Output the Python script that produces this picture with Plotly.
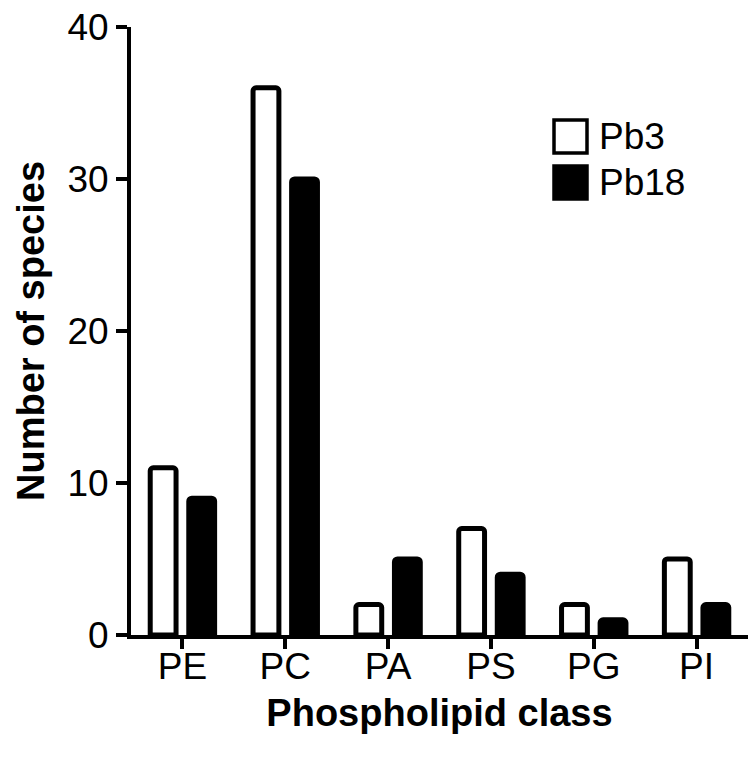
import plotly.graph_objects as go

categories = ["PE", "PC", "PA", "PS", "PG", "PI"]
pb3 = [11, 36, 2, 7, 2, 5]
pb18 = [9, 30, 5, 4, 1, 2]
series_names = ["Pb3", "Pb18"]
y_ticks = [0, 10, 20, 30, 40]

FONT = "Liberation Sans, Arial, sans-serif"

fig = go.Figure()
fig.add_trace(go.Bar(
    x=categories, y=pb3, name=series_names[0],
    marker=dict(color="white", line=dict(color="black", width=5), cornerradius=3),
    showlegend=False,
))
fig.add_trace(go.Bar(
    x=categories, y=pb18, name=series_names[1],
    marker=dict(color="black", line=dict(color="black", width=5), cornerradius=3),
    showlegend=False,
))

# manual legend (large square swatches)
L, T = 131, 27
PW, PH = 617, 608
def px(xp):
    return (xp - L) / PW
def py(yp):
    return (T + PH - yp) / PH

shapes = [
    dict(type="rect", xref="paper", yref="paper",
         x0=px(554), x1=px(587), y0=py(120), y1=py(153),
         line=dict(color="black", width=3.5), fillcolor="white"),
    dict(type="rect", xref="paper", yref="paper",
         x0=px(554), x1=px(587), y0=py(166), y1=py(199),
         line=dict(color="black", width=3.5), fillcolor="black"),
]
annotations = [
    dict(text=series_names[0], xref="paper", yref="paper", x=px(597), y=py(136),
         xanchor="left", yanchor="middle", showarrow=False,
         font=dict(family=FONT, size=37, color="black")),
    dict(text=series_names[1], xref="paper", yref="paper", x=px(597), y=py(182),
         xanchor="left", yanchor="middle", showarrow=False,
         font=dict(family=FONT, size=37, color="black")),
]

fig.update_layout(
    width=753, height=757,
    margin=dict(l=L, r=753 - L - PW, t=T, b=757 - T - PH),
    paper_bgcolor="white", plot_bgcolor="white",
    barmode="group", bargap=0.25, bargroupgap=0.33,
    font=dict(family=FONT, color="black"),
    shapes=shapes, annotations=annotations,
    xaxis=dict(
        showline=True, linecolor="black", linewidth=4,
        ticks="outside", ticklen=10, tickwidth=4, tickcolor="black",
        tickfont=dict(family=FONT, size=37, color="black"),
        ticklabelstandoff=-14,
        showgrid=False, zeroline=False,
        title=dict(text="Phospholipid class", standoff=14,
                   font=dict(family=FONT, size=38, color="black", weight="bold")),
    ),
    yaxis=dict(
        range=[0, 40], tickvals=y_ticks, ticktext=[str(v) for v in y_ticks],
        showline=True, linecolor="black", linewidth=4,
        ticks="outside", ticklen=11, tickwidth=4, tickcolor="black",
        tickfont=dict(family=FONT, size=37, color="black"),
        showgrid=False, zeroline=False,
        title=dict(text="Number of species", standoff=12,
                   font=dict(family=FONT, size=38, color="black", weight="bold")),
    ),
)

fig.write_html("out.html", config={"displayModeBar": False},
               post_script="document.body.style.margin='0';")
